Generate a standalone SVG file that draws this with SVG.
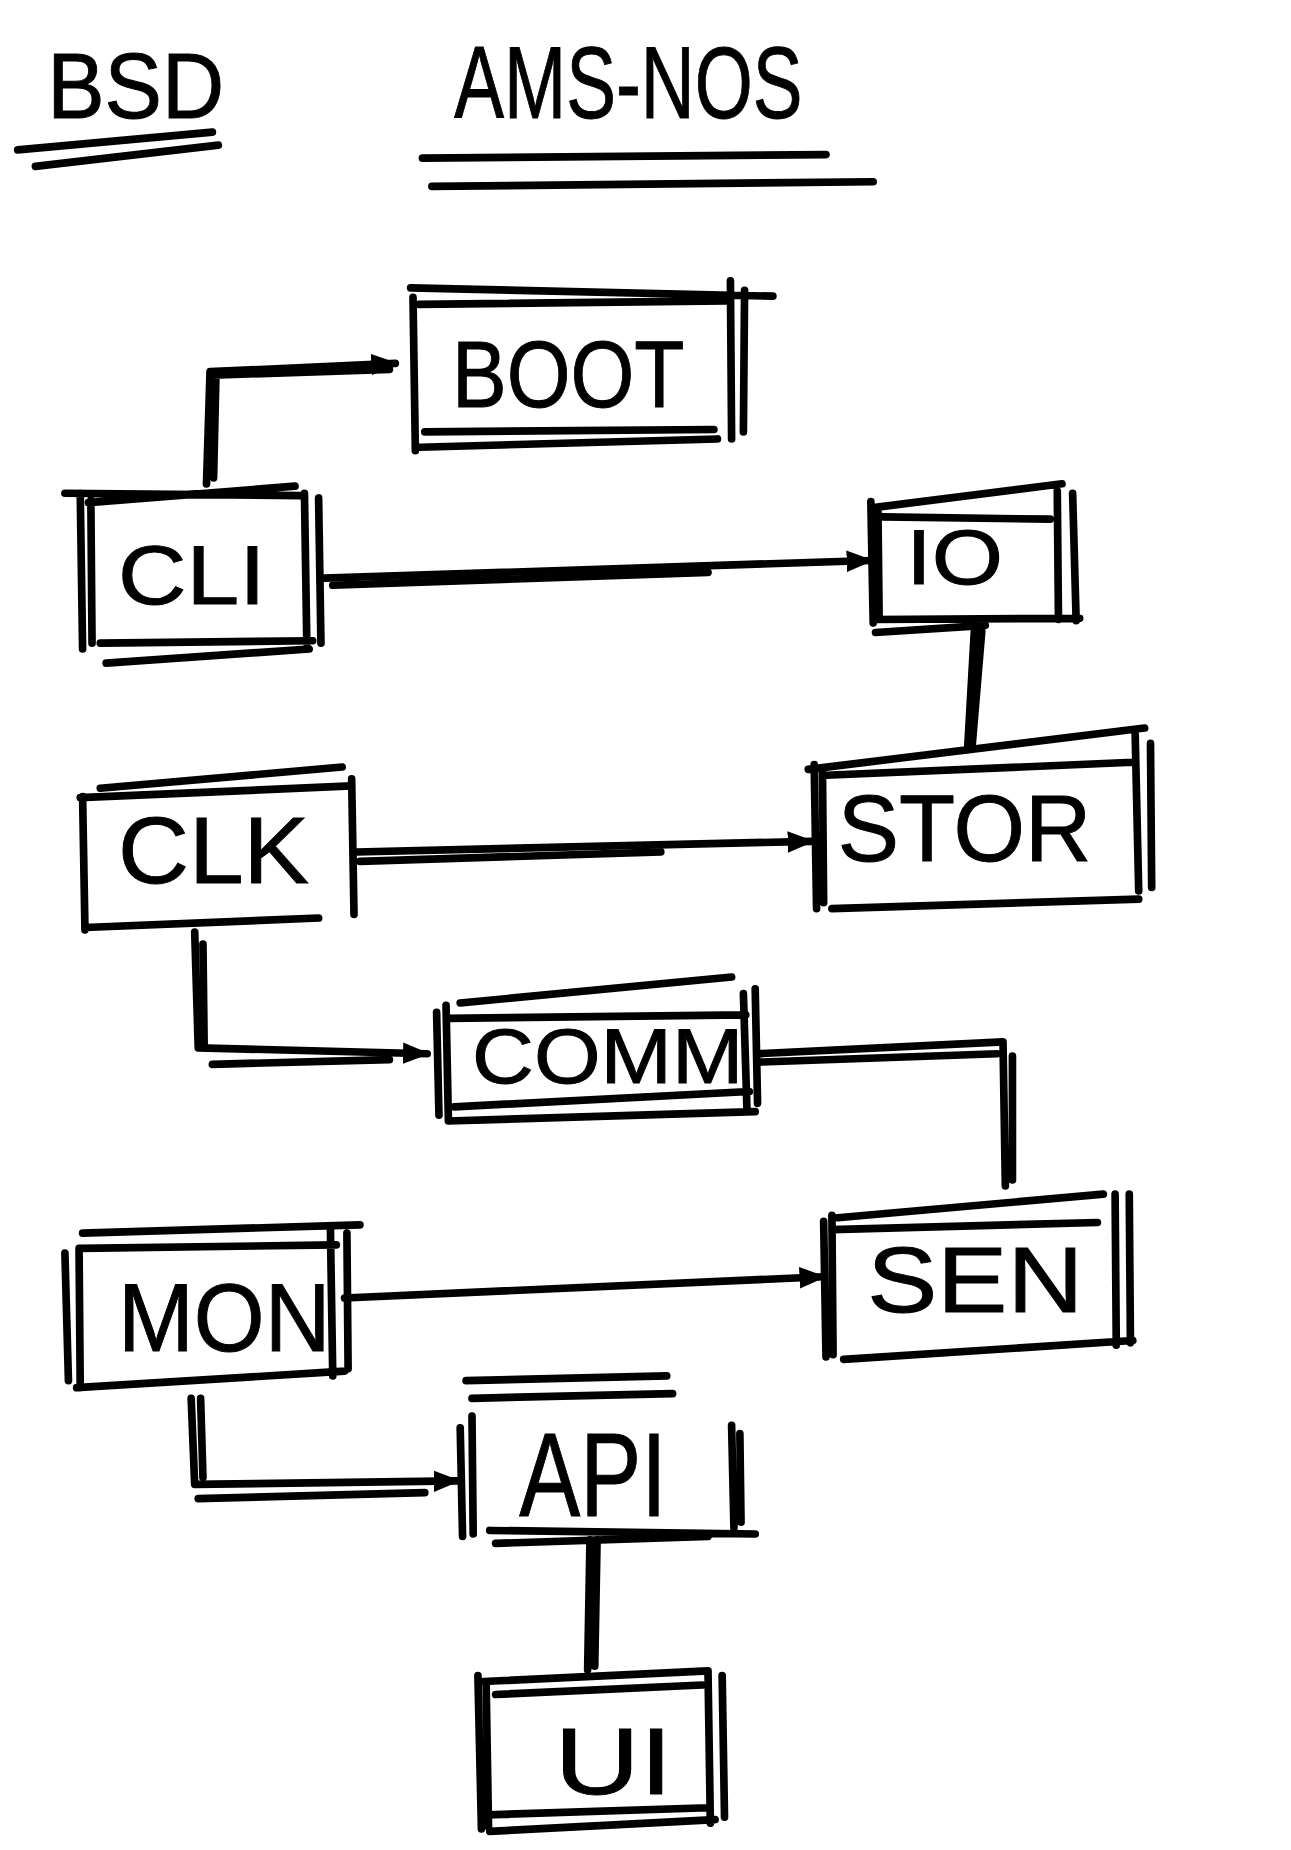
<svg xmlns="http://www.w3.org/2000/svg" width="1291" height="1850" viewBox="0 0 1291 1850">
<style>
.s{fill:none;stroke:#000;stroke-width:6.5;stroke-linecap:round;stroke-linejoin:round}
.c{fill:none;stroke:#000;stroke-width:6.5;stroke-linecap:round;stroke-linejoin:round}
.t{font-family:"Liberation Sans",Arial,sans-serif;fill:#000;stroke:#000;stroke-width:0.8}
</style>
<defs>
<marker id="ah" viewBox="0 0 10 10" refX="9" refY="5" markerWidth="3.5" markerHeight="3.5" orient="auto" markerUnits="strokeWidth">
<path d="M0,1 L10,5 L0,9 z" fill="#000"/>
</marker>
</defs>
<rect width="1291" height="1850" fill="#fff"/>
<g transform="scale(1.18)">
<g id="title">
<text class="t" x="40" y="100" font-size="78" textLength="150" lengthAdjust="spacingAndGlyphs">BSD</text>
<path class="s" d="M15,127 L180,112 M30,141 L185,123"/>
<text class="t" x="385" y="100" font-size="86" textLength="295" lengthAdjust="spacingAndGlyphs">AMS-NOS</text>
<path class="s" d="M358,134 L700,131 M366,158 L740,154"/>
</g>
<g id="connectors">
<path class="c" d="M175,410 L178,315 L335,308" marker-end="url(#ah)"/>
<path class="c" d="M181,405 L183,318 M180,318 L330,313"/>
<path class="c" d="M275,490 L738,475" marker-end="url(#ah)"/>
<path class="c" d="M282,496 L600,485"/>
<path class="c" d="M826,530 L820,635 M832,535 L824,630"/>
<path class="c" d="M302,722 L688,713" marker-end="url(#ah)"/>
<path class="c" d="M305,730 L560,722"/>
<path class="c" d="M165,790 L168,888 L362,893" marker-end="url(#ah)"/>
<path class="c" d="M172,800 L173,885 M180,902 L330,898"/>
<path class="c" d="M642,893 L850,883 L852,1005 M645,900 L845,893 M858,895 L858,1000"/>
<path class="c" d="M292,1100 L698,1082" marker-end="url(#ah)"/>
<path class="c" d="M162,1185 L165,1258 L388,1255" marker-end="url(#ah)"/>
<path class="c" d="M170,1185 L172,1252 M168,1270 L360,1265"/>
<path class="c" d="M500,1305 L498,1415 M506,1305 L504,1412"/>
</g>
<g id="node-boot">
<path class="s" d="M350,252 L352,382 M348,244 L655,251 M355,258 L615,255 M619,238 L620,372 M631,246 L630,366 M360,366 L605,364 M356,379 L608,372"/>
<text class="t" x="383" y="345" font-size="80" textLength="197" lengthAdjust="spacingAndGlyphs">BOOT</text>
</g>
<g id="node-cli">
<path class="s" d="M68,418 L70,550 M77,424 L78,545 M55,418 L255,420 M75,426 L250,412 M258,418 L260,545 M270,422 L272,545 M85,545 L265,543 M90,562 L262,550"/>
<text class="t" x="100" y="512" font-size="70" textLength="125" lengthAdjust="spacingAndGlyphs">CLI</text>
</g>
<g id="node-io">
<path class="s" d="M738,425 L740,528 M744,430 L745,522 M742,430 L900,410 M748,438 L890,440 M896,416 L897,525 M909,418 L912,526 M740,525 L915,524 M742,536 L835,530"/>
<text class="t" x="768" y="495" font-size="66" textLength="82" lengthAdjust="spacingAndGlyphs">IO</text>
</g>
<g id="node-stor">
<path class="s" d="M690,648 L692,770 M697,652 L698,765 M685,652 L970,617 M700,657 L960,646 M962,622 L965,755 M975,630 L976,752 M705,770 L965,762"/>
<text class="t" x="710" y="730" font-size="80" textLength="215" lengthAdjust="spacingAndGlyphs">STOR</text>
</g>
<g id="node-clk">
<path class="s" d="M70,675 L72,788 M68,676 L298,666 M85,668 L290,650 M298,660 L300,775 M72,786 L270,778"/>
<text class="t" x="100" y="748" font-size="80" textLength="162" lengthAdjust="spacingAndGlyphs">CLK</text>
</g>
<g id="node-comm">
<path class="s" d="M370,858 L372,945 M378,852 L380,950 M380,863 L632,860 M390,850 L620,828 M630,842 L633,940 M640,838 L642,935 M385,938 L635,925 M380,950 L640,942"/>
<text class="t" x="400" y="918" font-size="66" textLength="230" lengthAdjust="spacingAndGlyphs">COMM</text>
</g>
<g id="node-sen">
<path class="s" d="M698,1035 L700,1150 M705,1030 L706,1148 M710,1032 L935,1012 M705,1042 L930,1036 M945,1012 L946,1140 M957,1012 L958,1138 M715,1152 L960,1136"/>
<text class="t" x="735" y="1112" font-size="78" textLength="183" lengthAdjust="spacingAndGlyphs">SEN</text>
</g>
<g id="node-mon">
<path class="s" d="M55,1062 L58,1170 M67,1058 L68,1176 M70,1045 L305,1038 M68,1058 L285,1055 M280,1040 L282,1166 M294,1045 L295,1160 M65,1176 L292,1162"/>
<text class="t" x="100" y="1145" font-size="82" textLength="180" lengthAdjust="spacingAndGlyphs">MON</text>
</g>
<g id="node-api">
<path class="s" d="M395,1170 L565,1166 M400,1185 L570,1181 M390,1210 L392,1302 M400,1200 L401,1300 M620,1208 L622,1295 M627,1215 L628,1290 M415,1297 L640,1300 M420,1308 L600,1302"/>
<text class="t" x="440" y="1285" font-size="100" textLength="125" lengthAdjust="spacingAndGlyphs">API</text>
</g>
<g id="node-ui">
<path class="s" d="M405,1420 L408,1550 M412,1428 L414,1548 M410,1425 L600,1416 M420,1436 L595,1428 M600,1416 L602,1545 M612,1420 L614,1540 M414,1538 L600,1532 M415,1552 L606,1542"/>
<text class="t" x="470" y="1520" font-size="80" textLength="100" lengthAdjust="spacingAndGlyphs">UI</text>
</g>
</g>
</svg>
